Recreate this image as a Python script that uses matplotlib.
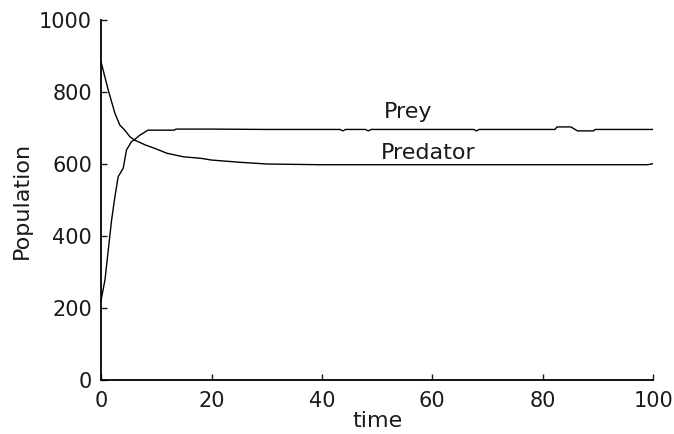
import matplotlib
matplotlib.use("Agg")
import matplotlib.pyplot as plt

# population estimates (separate time samples per curve)
prey_time = [0, 0.7, 1.3, 1.9, 2.5, 3.1, 4.0, 4.6, 5.5, 6, 7, 8.5, 13.2, 13.6, 20, 30, 43.3, 43.8, 44.3,
             47.9, 48.4, 48.9, 60, 67.5, 68, 68.5, 82.2, 82.6, 85.1, 86.3, 89.2, 89.5, 100]
prey = [222, 278, 361, 444, 509, 565, 588, 639, 662, 667, 680, 694, 694, 697, 697, 696, 696, 692, 696,
        696, 692, 696, 696, 696, 692, 696, 696, 703, 703, 692, 692, 696, 696]

predator_time = [0, 1.3, 2.5, 3.4, 4.3, 5.2, 6, 8, 9.8, 11.9, 14.9, 18, 20, 25, 30, 40, 60, 80, 99, 100]
predator = [883, 805, 741, 708, 694, 676, 667, 653, 643, 630, 620, 616, 611, 605, 600, 598, 598, 598, 598, 601]

labels = ["Prey", "Predator"]
label_pos = [(55.6, 744), (59.2, 631)]

plt.rcParams["font.family"] = ["DejaVu Sans"]

fig = plt.figure(figsize=(6.74, 4.34), dpi=100)
ax = fig.add_axes([0.15, 0.1244, 0.819, 0.8295])

ax.plot(prey_time, prey, color="black", linewidth=1.0)
ax.plot(predator_time, predator, color="black", linewidth=1.0)

for txt, (tx, ty) in zip(labels, label_pos):
    ax.text(tx, ty, txt, fontsize=16, ha="center", va="center", color="#1a1a1a")

ax.set_xlim(0, 100)
ax.set_ylim(0, 1000)
ax.set_xticks([0, 20, 40, 60, 80, 100])
ax.set_yticks([0, 200, 400, 600, 800, 1000])
ax.tick_params(direction="in", length=4, width=1, labelsize=15, colors="#1a1a1a")
ax.tick_params(axis="x", pad=8)
ax.tick_params(axis="y", pad=6.5)
ax.spines["top"].set_visible(False)
ax.spines["right"].set_visible(False)
ax.spines["left"].set_linewidth(1.3)
ax.spines["bottom"].set_linewidth(1.3)
ax.set_xlabel("time", fontsize=16, labelpad=0, color="#1a1a1a")
ax.set_ylabel("Population", fontsize=16, labelpad=5, color="#1a1a1a")

fig.savefig("out.png", dpi=100)
